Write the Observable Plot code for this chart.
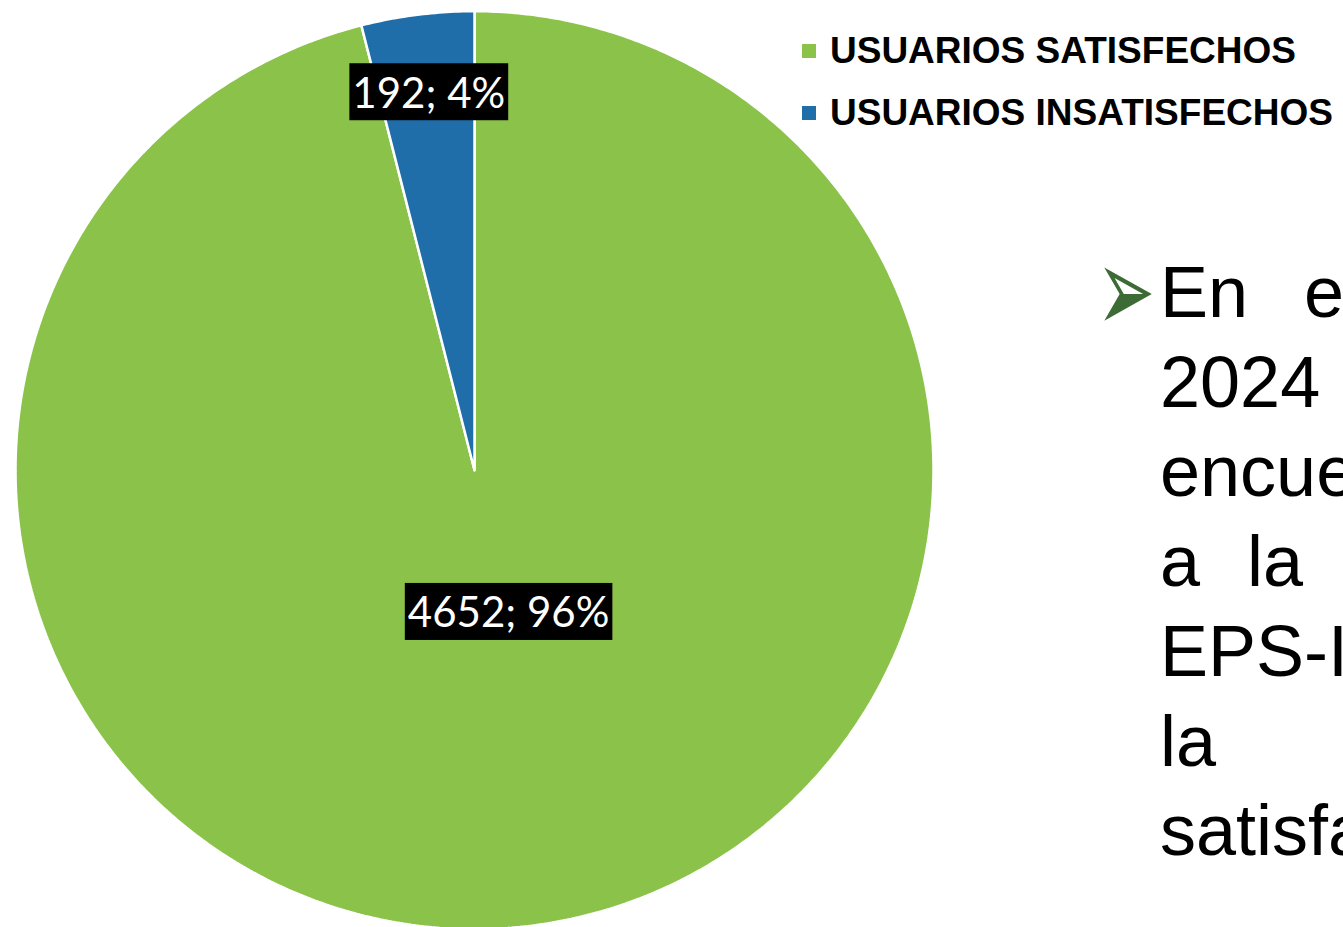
<!DOCTYPE html>
<html>
<head>
<meta charset="utf-8">
<script src="https://cdn.jsdelivr.net/npm/d3@7"></script>
<script src="https://cdn.jsdelivr.net/npm/@observablehq/plot@0.6"></script>
<style>
  html, body { margin: 0; padding: 0; background: #fff; overflow: hidden; }
  #wrap { position: relative; width: 1343px; height: 927px; overflow: hidden; }
  #wrap > svg { position: absolute; left: 0; top: 0; }
</style>
</head>
<body>
<div id="wrap"></div>
<script>
// ---- data ----
const categories = ["USUARIOS SATISFECHOS", "USUARIOS INSATISFECHOS"];
const values = [4652, 192];
const colors = ["#8bc249", "#1f6eaa"];
const textLines = ["En el año", "2024 se", "encuestaron", "a la", "EPS-ILO", "la", "satisfacción"];
const bullet = "➢";

// ---- placement / style constants ----
const labelPlacement = [{radius: 0.322, shift: -6.2}, {radius: 0.825, shift: 0.2}];
const lineWordSpacing = [36, 10, 0, 27, 0, 140, 0];

const total = d3.sum(values);
const rows = categories.map((c, i) => ({cat: c, value: values[i]}));
const arcs = d3.pie().sort(null).value(d => d.value)(rows);

// slice outlines derived from the pie angles
const outline = [];
arcs.forEach(a => {
  const cat = a.data.cat;
  outline.push({cat, x: 0, y: 0});
  const steps = Math.max(2, Math.ceil((a.endAngle - a.startAngle) / (Math.PI / 360)));
  for (let k = 0; k <= steps; k++) {
    const t = a.startAngle + (a.endAngle - a.startAngle) * k / steps;
    outline.push({cat, x: Math.sin(t), y: Math.cos(t)});
  }
  outline.push({cat, x: 0, y: 0});
});

const labels = arcs.map((a, i) => {
  const mid = (a.startAngle + a.endAngle) / 2 + labelPlacement[i].shift * Math.PI / 180;
  const r = labelPlacement[i].radius;
  const pct = Math.round(a.data.value / total * 100);
  return {x: Math.sin(mid) * r, y: Math.cos(mid) * r, text: `${a.data.value}; ${pct}%`};
});

const plot = Plot.plot({
  width: 948,
  height: 927,
  margin: 0,
  x: {domain: [-1, 1], range: [15, 933], axis: null},
  y: {domain: [-1, 1], range: [928.7, 10.7], axis: null},
  color: {domain: categories, range: colors},
  marks: [
    Plot.line(outline, {x: "x", y: "y", z: "cat", fill: "cat", stroke: "white", strokeWidth: 2.5, strokeLinejoin: "bevel"}),
    Plot.text(labels, {x: "x", y: "y", text: "text", fill: "white", fontSize: 42, fontFamily: "Lato"})
  ]
});
plot.style.background = "transparent";
document.getElementById("wrap").appendChild(plot);

// black label boxes behind label texts
plot.querySelectorAll('g[aria-label="text"] text').forEach(t => {
  const b = t.getBBox();
  const cy = b.y + b.height / 2;
  const r = document.createElementNS("http://www.w3.org/2000/svg", "rect");
  r.setAttribute("x", b.x - 3);
  r.setAttribute("width", b.width + 6);
  r.setAttribute("y", cy - 28.5);
  r.setAttribute("height", 57);
  r.setAttribute("fill", "black");
  const tr = t.getAttribute("transform");
  if (tr) r.setAttribute("transform", tr);
  t.parentNode.insertBefore(r, t);
});

// ---- legend and slide text overlay ----
const ov = d3.select("#wrap").append("svg")
  .attr("width", 1343).attr("height", 927)
  .style("pointer-events", "none");

const leg = ov.append("g");
categories.forEach((c, i) => {
  leg.append("rect").attr("x", 802).attr("y", 44 + i * 62).attr("width", 14).attr("height", 14).attr("fill", colors[i]);
  leg.append("text").attr("x", 830).attr("y", 63 + i * 62)
    .attr("font-family", "Liberation Sans, Arial, sans-serif").attr("font-weight", "bold")
    .attr("font-size", 37).attr("fill", "#000").text(c);
});

ov.append("text").attr("x", 0).attr("y", 0)
  .attr("transform", "translate(1096.6, 331.7) scale(1, 1.73)")
  .attr("font-family", "DejaVu Sans").attr("font-size", 70).attr("fill", "#3d6b35").text(bullet);

textLines.forEach((s, i) => {
  ov.append("text").attr("x", 1160).attr("y", 317 + i * 89.7)
    .attr("font-family", "Liberation Sans, Arial, sans-serif").attr("font-size", 72)
    .attr("fill", "#000").style("word-spacing", lineWordSpacing[i] + "px")
    .style("white-space", "pre").text(s);
});
</script>
</body>
</html>
